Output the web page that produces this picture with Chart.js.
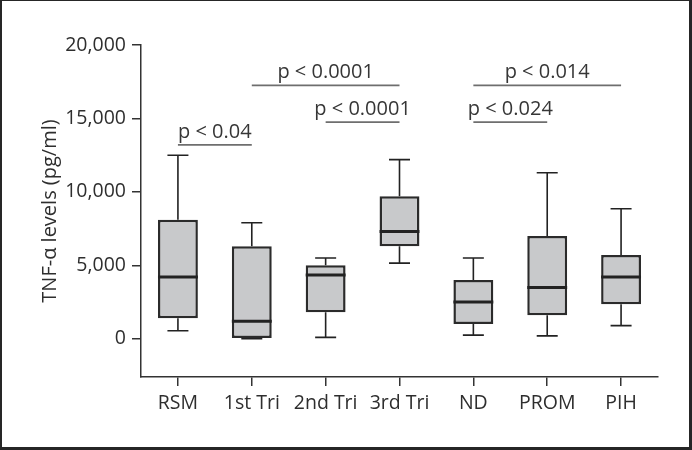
<!DOCTYPE html>
<html>
<head>
<meta charset="utf-8">
<script src="https://cdn.jsdelivr.net/npm/chart.js@4.4.1/dist/chart.umd.min.js"></script>
<style>
  html, body { margin: 0; padding: 0; background: #fff; }
  #wrap { width: 692px; height: 450px; position: relative; }
</style>
</head>
<body>
<div id="wrap"><canvas id="chart" width="692" height="450"></canvas></div>
<script>
// Groups on the x axis
const categories = ["RSM", "1st Tri", "2nd Tri", "3rd Tri", "ND", "PROM", "PIH"];

// Box plot values per group (pg/ml)
const whiskerLow  = [550, 0, 100, 5150, 250, 200, 900];
const quart1      = [1400, 0, 1800, 6300, 1000, 1600, 2350];
const medians     = [4200, 1200, 4350, 7300, 2500, 3500, 4200];
const quart3      = [8100, 6300, 5000, 9700, 4000, 7000, 5700];
const whiskerHigh = [12500, 7900, 5500, 12200, 5500, 11300, 8850];

// Y axis ticks
const yTicks = [0, 5000, 10000, 15000, 20000];

// Significance brackets: from group, to group, height, label
const sigFrom  = [0, 1, 2, 4, 4];
const sigTo    = [1, 3, 3, 6, 5];
const sigLevel = [13200, 17250, 14750, 17250, 14750];
const sigText  = ["p < 0.04", "p < 0.0001", "p < 0.0001", "p < 0.014", "p < 0.024"];

const FONT = "'Open Sans', sans-serif";
const TEXT = "#2e2e2e";

// whiskers, medians and p-value brackets
const boxExtras = {
  id: "boxExtras",
  afterDatasetsDraw(chart) {
    const ctx = chart.ctx;
    const x = chart.scales.x;
    const y = chart.scales.y;
    const capHalf = 10.5;
    const meta = chart.getDatasetMeta(0);
    ctx.save();
    ctx.strokeStyle = "#222";
    ctx.lineCap = "butt";
    categories.forEach((c, i) => {
      const cx = x.getPixelForValue(i);
      // upper whisker
      ctx.lineWidth = 1.6;
      ctx.beginPath();
      ctx.moveTo(cx, y.getPixelForValue(quart3[i]));
      ctx.lineTo(cx, y.getPixelForValue(whiskerHigh[i]));
      ctx.moveTo(cx - capHalf, y.getPixelForValue(whiskerHigh[i]));
      ctx.lineTo(cx + capHalf, y.getPixelForValue(whiskerHigh[i]));
      // lower whisker
      ctx.moveTo(cx, y.getPixelForValue(quart1[i]));
      ctx.lineTo(cx, y.getPixelForValue(whiskerLow[i]));
      ctx.moveTo(cx - capHalf, y.getPixelForValue(whiskerLow[i]));
      ctx.lineTo(cx + capHalf, y.getPixelForValue(whiskerLow[i]));
      ctx.stroke();
      // median
      const bar = meta.data[i];
      const half = bar.width / 2;
      ctx.lineWidth = 3;
      ctx.beginPath();
      ctx.moveTo(cx - half, y.getPixelForValue(medians[i]));
      ctx.lineTo(cx + half, y.getPixelForValue(medians[i]));
      ctx.stroke();
    });

    // significance brackets
    ctx.font = "20px " + FONT;
    ctx.textAlign = "center";
    ctx.textBaseline = "alphabetic";
    sigText.forEach((t, k) => {
      const x1 = x.getPixelForValue(sigFrom[k]);
      const x2 = x.getPixelForValue(sigTo[k]);
      const ly = y.getPixelForValue(sigLevel[k]);
      ctx.strokeStyle = "#6e6e6e";
      ctx.lineWidth = 1.6;
      ctx.beginPath();
      ctx.moveTo(x1, ly);
      ctx.lineTo(x2, ly);
      ctx.stroke();
      ctx.fillStyle = "#363636";
      ctx.fillText(t, (x1 + x2) / 2, ly - 7);
    });
    ctx.restore();
  },
  afterDraw(chart) {
    // figure frame
    const ctx = chart.ctx;
    ctx.save();
    ctx.fillStyle = "#262626";
    ctx.fillRect(0, 0, 692, 1);
    ctx.fillRect(0, 0, 2, 450);
    ctx.fillRect(689, 0, 3, 450);
    ctx.fillRect(0, 447, 692, 3);
    ctx.restore();
  }
};

new Chart(document.getElementById("chart"), {
  type: "bar",
  plugins: [boxExtras],
  data: {
    labels: categories,
    datasets: [{
      data: categories.map((c, i) => [quart1[i], quart3[i]]),
      backgroundColor: "#c8c9cb",
      borderColor: "#2b2b2b",
      borderWidth: 2.5,
      borderSkipped: false,
      categoryPercentage: 1,
      barPercentage: 0.54
    }]
  },
  options: {
    responsive: false,
    animation: false,
    events: [],
    layout: { padding: { left: 0, top: 45, right: 34, bottom: 0 } },
    plugins: {
      legend: { display: false },
      tooltip: { enabled: false }
    },
    scales: {
      x: {
        afterFit: (s) => { s.height = 73; },
        grid: { display: true, offset: false, drawOnChartArea: false, drawTicks: true, tickLength: 9, color: "#333", lineWidth: 1.5 },
        border: { display: true, color: "#333", width: 1.5 },
        ticks: { color: TEXT, font: { family: FONT, size: 19.5 }, padding: 6, maxRotation: 0, autoSkip: false }
      },
      y: {
        min: -2600,
        max: 20000,
        afterFit: (s) => { s.width = 141; },
        afterBuildTicks: (s) => { s.ticks = yTicks.map(v => ({ value: v })); },
        grid: { display: true, drawOnChartArea: false, drawTicks: true, tickLength: 9, color: "#333", lineWidth: 1.5 },
        border: { display: true, color: "#333", width: 1.5 },
        ticks: {
          color: TEXT,
          font: { family: FONT, size: 19.5 },
          padding: 6,
          callback: (v) => v.toLocaleString("en-US")
        },
        title: {
          display: true,
          text: "TNF-α levels (pg/ml)",
          color: TEXT,
          font: { family: FONT, size: 20 },
          padding: { top: 38, bottom: 0 }
        }
      }
    }
  }
});
</script>
</body>
</html>
